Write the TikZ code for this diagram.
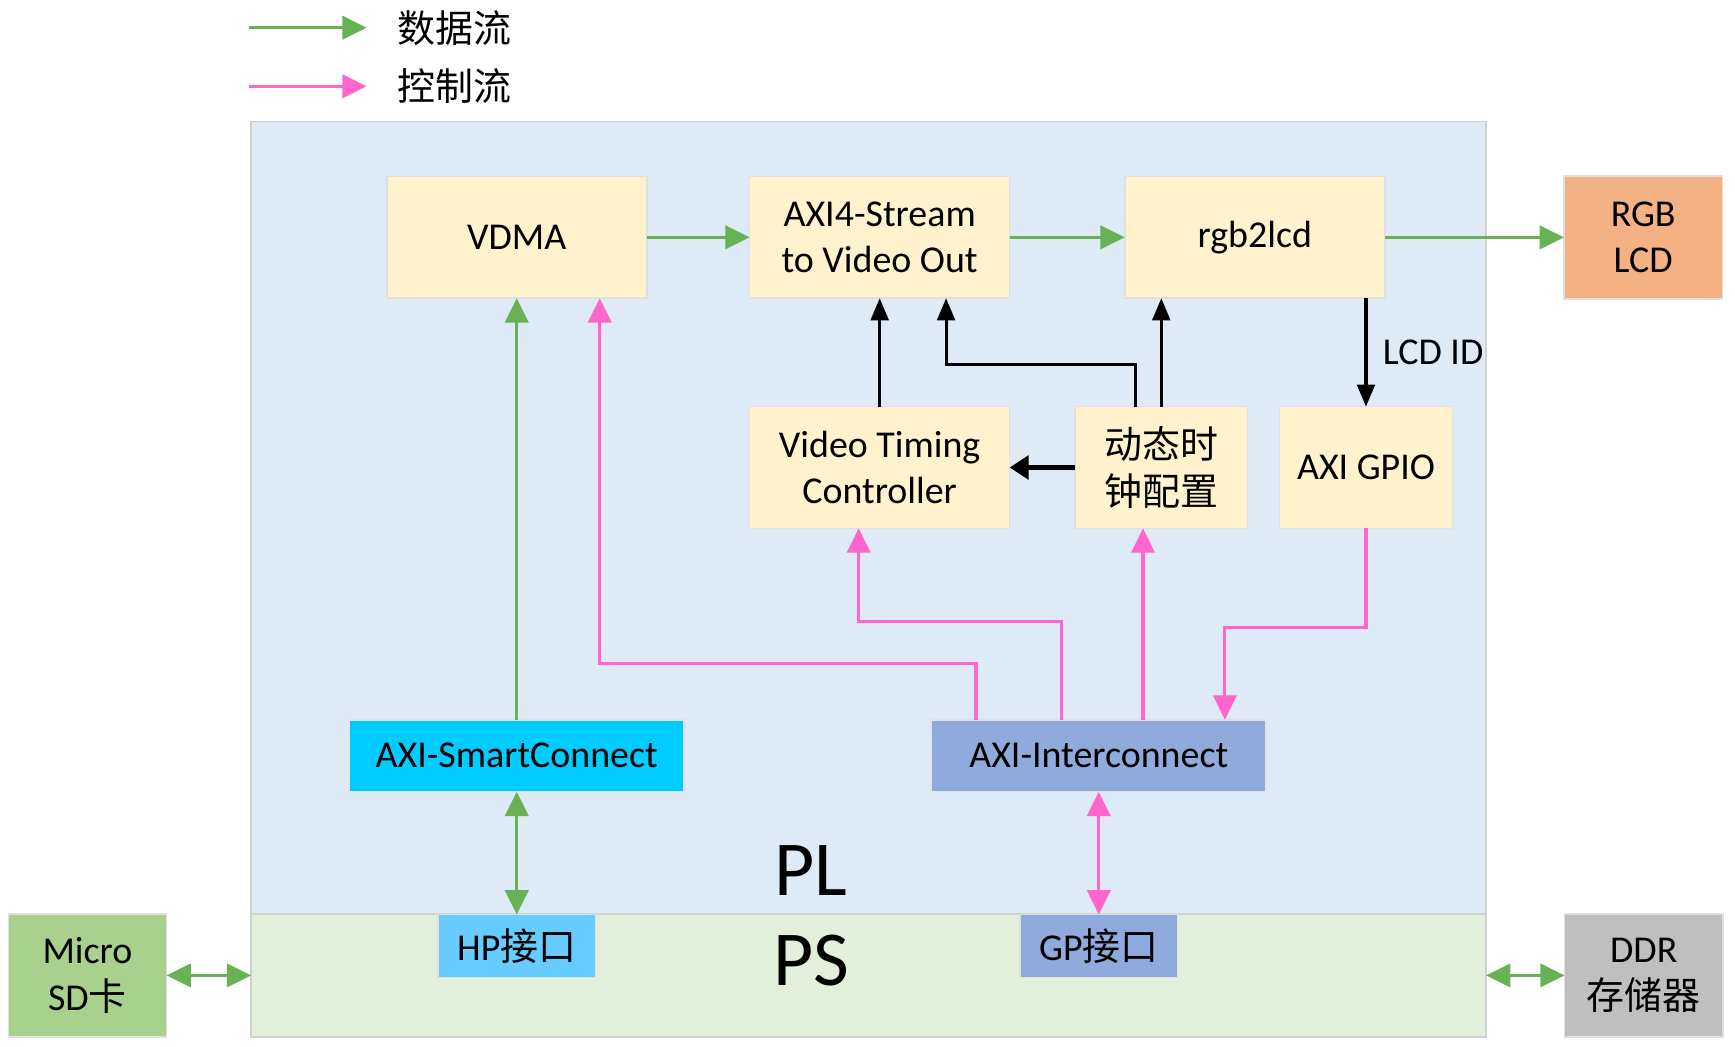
\documentclass[tikz,border=0pt]{standalone}
\usepackage{fontspec}
\setmainfont{Carlito}
\newfontfamily\cjk{Noto Sans CJK SC}
\usetikzlibrary{arrows.meta, positioning, calc}
\definecolor{PLBlue}{RGB}{222, 234, 246}
\definecolor{PSGreen}{RGB}{226, 239, 218}
\definecolor{IPYellow}{RGB}{255, 242, 204}
\definecolor{LcdOrange}{RGB}{244, 177, 131}
\definecolor{SmartCyan}{RGB}{0, 204, 255}
\definecolor{HpBlue}{RGB}{102, 204, 255}
\definecolor{IcBlue}{RGB}{143, 170, 220}
\definecolor{SdGreen}{RGB}{169, 209, 142}
\definecolor{DdrGray}{RGB}{191, 191, 191}
\definecolor{DataGreen}{RGB}{104, 177, 84}
\definecolor{CtrlPink}{RGB}{255, 102, 204}

\begin{document}
\begin{tikzpicture}[font=\fontsize{19.5}{24}\selectfont, >={Triangle[length=0.44cm, width=0.42cm]},
        ipbox/.style={draw=black!12, line width=0.8pt, fill=IPYellow, align=center, inner sep=0pt, outer sep=0pt, minimum width=4.7cm, minimum height=2.2cm},
        busbox/.style={ipbox, minimum width=6.04cm, minimum height=1.3cm},
        portbox/.style={ipbox, minimum width=2.84cm, minimum height=1.14cm},
        extbox/.style={ipbox, minimum width=2.86cm, minimum height=2.22cm},
        data/.style={draw=DataGreen, line width=1.7pt, ->},
        ctrl/.style={draw=CtrlPink, line width=1.6pt, ->},
        sig/.style={draw=black, line width=1.6pt, -{Triangle[length=0.4cm, width=0.32cm]}}]
        \useasboundingbox (0,0) rectangle (31.36,-18.92);

        % PL / PS
        \node[draw=black!18, line width=0.8pt, fill=PLBlue, outer sep=0pt, minimum width=22.32cm, minimum height=14.32cm] (pl) at (15.7,-9.36) {};
        \node[draw=black!18, line width=0.8pt, fill=PSGreen, outer sep=0pt, minimum width=22.32cm, minimum height=2.22cm] (ps) at (15.7,-17.63) {};
        \node[font=\fontsize{40}{48}\selectfont] (pltxt) at (14.66,-15.74) {PL};
        \node[font=\fontsize{40}{48}\selectfont] (pstxt) at (14.66,-17.36) {PS};

        % legend
        \node (datatxt) at (8.22,-0.5) {\cjk 数据流};
        \node (ctrltxt) at (8.22,-1.56) {\cjk 控制流};
        \draw[data] ([xshift=-2.56cm]datatxt.west) -- ([xshift=-0.44cm]datatxt.west);
        \draw[ctrl] ([xshift=-2.56cm]ctrltxt.west) -- ([xshift=-0.44cm]ctrltxt.west);

        \node[ipbox] (vdma) at (9.34,-4.29) {VDMA};
        \node[ipbox, right=1.86cm of vdma] (axis) {AXI4-Stream\\to Video Out};
        \node[ipbox, right=2.08cm of axis] (rgb) {rgb2lcd};
        \node[extbox, fill=LcdOrange, right=3.24cm of rgb] (lcd) {RGB\\LCD};
        \node[ipbox, below=1.96cm of axis] (vtc) {Video Timing\\Controller};
        \node[ipbox, minimum width=3.12cm, right=1.18cm of vtc, font=\fontsize{19.5}{24}\cjk] (dyn) {动态时\\钟配置};
        \node[ipbox, minimum width=3.12cm, right=0.58cm of dyn] (gpio) {AXI GPIO};
        \node[busbox, fill=SmartCyan, below=7.62cm of vdma] (smart) {AXI-SmartConnect};
        \node[busbox, fill=IcBlue, right=4.48cm of smart] (ic) {AXI-Interconnect};
        \node[portbox, fill=HpBlue, below=2.22cm of smart] (hp) {HP{\cjk 接口}};
        \node[portbox, fill=IcBlue, below=2.22cm of ic] (gp) {GP{\cjk 接口}};
        \node[extbox, fill=SdGreen] (sd) at (1.58,-17.63) {Micro\\SD{\cjk 卡}};
        \node[extbox, fill=DdrGray] (ddr) at (29.71,-17.63) {DDR\\{\cjk 存储器}};

        \draw[data] (vdma) -- (axis);
        \draw[data] (axis) -- (rgb);
        \draw[data] (rgb) -- (lcd);
        \draw[data] (smart) -- (vdma);
        \draw[data, <->] (smart) -- (hp);
        \draw[data, <->] (sd) -- (ps);
        \draw[data, <->] (ps) -- (ddr);

        \draw[sig] (vtc) -- (axis);
        \draw[sig] ([xshift=-0.46cm]dyn.north) -- ++(0,0.76) -| ([xshift=1.2cm]axis.south);
        \draw[sig] (dyn.north) -- (dyn.north |- rgb.south);
        \draw[sig, line width=3pt, -{Triangle[length=0.34cm, width=0.42cm]}] (dyn) -- (vtc);
        \draw[sig] (gpio.north |- rgb.south) -- (gpio.north) node[midway, right=0.16cm] (lcdid) {LCD ID};

        \draw[ctrl] ([xshift=-2.22cm]ic.north) -- ++(0,1.02) -| ([xshift=1.5cm]vdma.south);
        \draw[ctrl] ([xshift=-0.68cm]ic.north) -- ++(0,1.78) -| ([xshift=-0.38cm]vtc.south);
        \draw[ctrl] ([xshift=0.8cm]ic.north) -- ([xshift=0.8cm]ic.north |- dyn.south);
        \draw[ctrl] (gpio.south) -- ++(0,-1.8) -| ([xshift=2.28cm]ic.north);
        \draw[ctrl, <->] (ic) -- (gp);
    \end{tikzpicture}
\end{document}
